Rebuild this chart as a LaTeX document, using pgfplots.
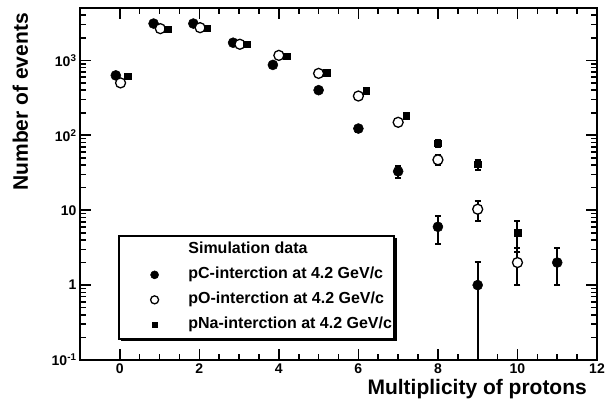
\documentclass[border=0pt]{standalone}
\usepackage{fontspec}
\setmainfont{Liberation Sans}
\usepackage{pgfplots}
\pgfplotsset{compat=1.18}
\usetikzlibrary{shadows}

\pgfplotstableread{
x y ep em
-0.1 630 25 25
0.85 3100 56 56
1.85 3100 56 56
2.85 1720 41 41
3.85 870 29 29
5 400 20 20
6 123 11 11
7 33 5.7 5.7
8 6 2.45 2.45
9 1 1.05 0.999
11 2 1.1 1
}\pC
\pgfplotstableread{
x y ep em
0.02 500 22 22
1.02 2650 51 51
2.02 2730 52 52
3.02 1640 40 40
4.0 1165 34 34
5.0 670 26 26
6.0 334 18 18
7.0 149 12 12
8.0 47 6.9 6.9
9.0 10.3 2.9 3.2
10 2 1.1 1
}\pO
\pgfplotstableread{
x y ep em
0.2 610 25 25
1.2 2600 51 51
2.2 2670 52 52
3.2 1640 40 40
4.2 1140 34 34
5.2 685 26 26
6.2 390 20 20
7.2 182 13.5 13.5
8.0 78 8.8 8.8
9.0 41 6.4 6.4
10 5 2.24 2.24
}\pNa

\begin{document}
\begin{tikzpicture}[font=\bfseries]
\path[use as bounding box] (-80pt,-55pt) rectangle (527pt,360pt);
\begin{axis}[
  at={(0pt,0pt)}, anchor=south west,
  scale only axis, width=517pt, height=352pt,
  ymode=log, xmin=-1, xmax=12, ymin=0.1, ymax=5000,
  xtick={0,2,...,12}, minor x tick num=3,
  ytick={0.1,1,10,100,1000},
  minor ytick={0.2,0.3,0.4,0.5,0.6,0.7,0.8,0.9,2,3,4,5,6,7,8,9,20,30,40,50,60,70,80,90,200,300,400,500,600,700,800,900,2000,3000,4000,5000},
  yticklabels={10\textsuperscript{-1},1,10,10\textsuperscript{2},10\textsuperscript{3}},
  xtick pos=both, ytick pos=both, xticklabel pos=bottom, yticklabel pos=left,
  tick align=inside,
  major tick length=11pt, minor tick length=6pt,
  tick style={line width=1.6pt, black},
  axis line style={line width=2.2pt},
  /pgf/number format/assume math mode=true,
  ticklabel style={font=\fontsize{14}{16}\selectfont\bfseries},
  xlabel={Multiplicity of protons},
  ylabel={Number of events},
  label style={font=\fontsize{21}{25}\selectfont\bfseries},
  xlabel style={at={(axis description cs:0.9807,-0.0994)}, anchor=base east, inner sep=0pt},
  ylabel style={at={(axis description cs:-0.1006,0.9858)}, anchor=base east, inner sep=0pt},
  errstyle/.style={draw=none, mark=none, forget plot,
    error bars/y dir=both, error bars/y explicit,
    error bars/error bar style={line width=2pt, black, solid},
    error bars/error mark options={rotate=90, mark size=3pt, line width=2pt, black, draw=black}},
  legend cell align=left,
  legend image code/.code={\path (0pt,0pt) (66pt,0pt); \draw[#1, /tikz/every mark/.append style={scale=0.8}] plot coordinates {(35pt,0pt)};},
  legend style={at={(axis description cs:0.0735,0.355)}, anchor=north west,
    draw=black, line width=1.6pt,
    drop shadow={shadow xshift=2.5pt, shadow yshift=-2.5pt, fill=black, opacity=1},
    fill=white,
    inner xsep=0pt, inner ysep=6pt, row sep=9pt,
    font=\fontsize{16}{19}\selectfont\bfseries,
    nodes={text height=12pt, text depth=4pt, inner ysep=0pt},
    column 2/.style={nodes={text width=220pt}}},
]
\addlegendimage{empty legend}
\addlegendentry{Simulation data}
% error bars first, so the markers sit on top of them
\addplot[errstyle] table[x=x, y=y, y error plus=ep, y error minus=em] {\pC};
\addplot[errstyle] table[x=x, y=y, y error plus=ep, y error minus=em] {\pNa};
\addplot[errstyle] table[x=x, y=y, y error plus=ep, y error minus=em] {\pO};
\addplot[only marks, mark=*, mark size=5pt, black, mark options={line width=0.5pt}]
  table[x=x, y=y] {\pC};
\addlegendentry{pC-interction at 4.2 GeV/c}
\addplot[only marks, mark=*, mark size=5pt, black, mark options={draw=black, fill=white, line width=1.3pt}]
  table[x=x, y=y] {\pO};
\addlegendentry{pO-interction at 4.2 GeV/c}
\addplot[only marks, mark=square*, mark size=3.3pt, black, mark options={line width=0.5pt}]
  table[x=x, y=y] {\pNa};
\addlegendentry{pNa-interction at 4.2 GeV/c}
\end{axis}
\end{tikzpicture}
\end{document}
